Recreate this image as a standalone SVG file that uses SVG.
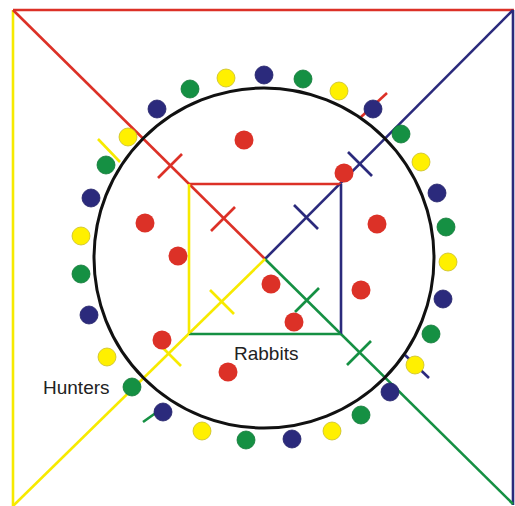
<svg xmlns="http://www.w3.org/2000/svg" width="515" height="506" viewBox="0 0 515 506">
<style>
.r{stroke:#dc3127}.b{stroke:#2b2a7c}.y{stroke:#f7ea00}.g{stroke:#159043}
line{stroke-width:2.6;fill:none}
.rd{fill:#dc3127}
.nv{fill:#2b2a7c;stroke:#24236a;stroke-width:0.8}
.gr{fill:#159043;stroke:#117a38;stroke-width:0.8}
.ye{fill:#fff000;stroke:#c9be2a;stroke-width:0.8}
text{font-family:"Liberation Sans",Arial,sans-serif;font-size:19px;fill:#222}
</style>
<rect width="515" height="506" fill="#fff"/>
<g id="connectors">
<!-- outer square edges -->
<line class="r" x1="13" y1="10" x2="514" y2="10"/>
<line class="b" x1="513" y1="10" x2="513" y2="505"/>
<line class="y" x1="13" y1="10" x2="13" y2="506"/>
<!-- diagonals -->
<line class="r" x1="13" y1="10" x2="265" y2="259"/>
<line class="b" x1="513" y1="10" x2="265" y2="259"/>
<line class="g" x1="265" y1="259" x2="513" y2="504"/>
<line class="y" x1="265" y1="259" x2="13" y2="506"/>
<!-- inner square -->
<line class="r" x1="189" y1="184" x2="341" y2="184"/>
<line class="b" x1="341" y1="184" x2="341" y2="334"/>
<line class="g" x1="189" y1="334" x2="341" y2="334"/>
<line class="y" x1="189" y1="184" x2="189" y2="334"/>
<!-- cross ticks -->
<line class="r" x1="158" y1="178" x2="182" y2="154"/>
<line class="r" x1="211" y1="231" x2="235" y2="207"/>
<line class="b" x1="348" y1="152" x2="372" y2="176"/>
<line class="b" x1="294" y1="205" x2="318" y2="229"/>
<line class="g" x1="295" y1="312" x2="319" y2="288"/>
<line class="g" x1="347" y1="365" x2="371" y2="341"/>
<line class="y" x1="210" y1="290" x2="234" y2="314"/>
<line class="y" x1="157" y1="342" x2="181" y2="366"/>
<!-- outside ticks -->
<line class="r" x1="361" y1="117" x2="387" y2="93"/>
<line class="y" x1="98" y1="139" x2="120" y2="162"/>
<line class="g" x1="143" y1="422" x2="167" y2="405"/>
<line class="b" x1="405" y1="355" x2="429" y2="378"/>
</g>
<g id="circle">
<circle cx="264" cy="258" r="170" fill="none" stroke="#111" stroke-width="3"/>
</g>
<g id="rabbits">
<circle class="rd" cx="244" cy="140" r="9.5"/>
<circle class="rd" cx="145" cy="223" r="9.5"/>
<circle class="rd" cx="178" cy="256" r="9.5"/>
<circle class="rd" cx="344" cy="173" r="9.5"/>
<circle class="rd" cx="377" cy="224" r="9.5"/>
<circle class="rd" cx="271" cy="284" r="9.5"/>
<circle class="rd" cx="361" cy="290" r="9.5"/>
<circle class="rd" cx="294" cy="322" r="9.5"/>
<circle class="rd" cx="162" cy="340" r="9.5"/>
<circle class="rd" cx="228" cy="372" r="9.5"/>
</g>
<g id="hunters">
<circle class="nv" cx="264" cy="75" r="9"/>
<circle class="gr" cx="303" cy="79" r="9"/>
<circle class="ye" cx="339" cy="91" r="9"/>
<circle class="nv" cx="373" cy="109" r="9"/>
<circle class="gr" cx="401" cy="134" r="9"/>
<circle class="ye" cx="421" cy="162" r="9"/>
<circle class="nv" cx="437" cy="193" r="9"/>
<circle class="gr" cx="446" cy="227" r="9"/>
<circle class="ye" cx="448" cy="262" r="9"/>
<circle class="nv" cx="443" cy="299" r="9"/>
<circle class="gr" cx="431" cy="334" r="9"/>
<circle class="ye" cx="415" cy="365" r="9"/>
<circle class="nv" cx="390" cy="392" r="9"/>
<circle class="gr" cx="361" cy="415" r="9"/>
<circle class="ye" cx="332" cy="431" r="9"/>
<circle class="nv" cx="292" cy="439" r="9"/>
<circle class="gr" cx="246" cy="440" r="9"/>
<circle class="ye" cx="202" cy="431" r="9"/>
<circle class="nv" cx="163" cy="412" r="9"/>
<circle class="gr" cx="132" cy="387" r="9"/>
<circle class="ye" cx="107" cy="357" r="9"/>
<circle class="nv" cx="89" cy="315" r="9"/>
<circle class="gr" cx="81" cy="274" r="9"/>
<circle class="ye" cx="81" cy="236" r="9"/>
<circle class="nv" cx="91" cy="198" r="9"/>
<circle class="gr" cx="106" cy="165" r="9"/>
<circle class="ye" cx="128" cy="137" r="9"/>
<circle class="nv" cx="157" cy="109" r="9"/>
<circle class="gr" cx="190" cy="89" r="9"/>
<circle class="ye" cx="226" cy="78" r="9"/>
</g>
<g id="labels">
<text x="43" y="394">Hunters</text>
<text x="234" y="360">Rabbits</text>
</g>
</svg>
